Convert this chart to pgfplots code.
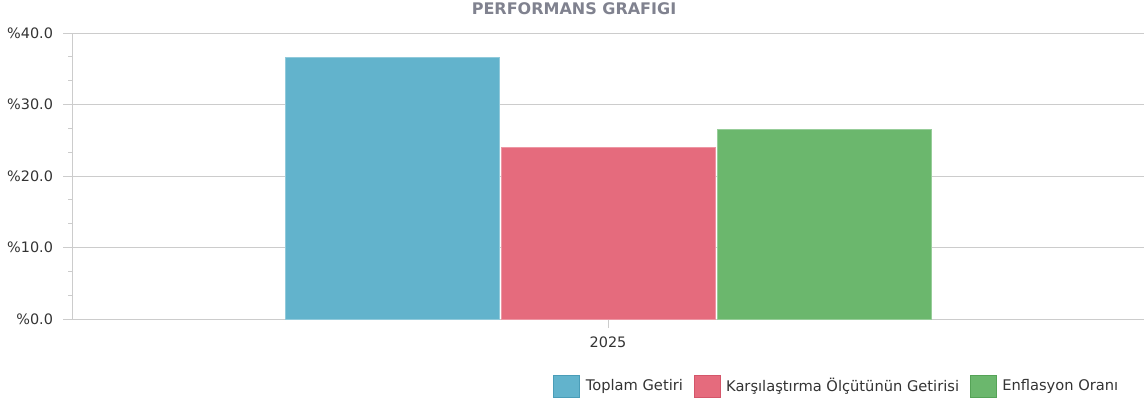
\documentclass[border=0pt]{standalone}
\usepackage{fontspec}
\setmainfont{DejaVu Sans}
\usepackage{pgfplots}
\pgfplotsset{compat=1.18}
\definecolor{cBlue}{HTML}{62B3CC}
\definecolor{cRed}{HTML}{E56B7D}
\definecolor{cGreen}{HTML}{6BB76D}
\definecolor{bBlue}{HTML}{4A9DB8}
\definecolor{bRed}{HTML}{D4566A}
\definecolor{bGreen}{HTML}{55A357}
\definecolor{titlegray}{HTML}{80828F}
\definecolor{txt}{HTML}{333333}
\definecolor{axgray}{HTML}{CCCCCC}
\begin{document}
\begin{tikzpicture}[x=0.75pt,y=0.75pt]
\path[use as bounding box] (0,0) rectangle (1144,405);
\node[font=\bfseries\fontsize{12}{14}\selectfont, text=titlegray] at (574,396) {PERFORMANS GRAFIGI};
\begin{axis}[
  at={(54pt,64.5pt)}, anchor=south west,
  scale only axis, width=804pt, height=214.5pt,
  xmin=-1, xmax=1, ymin=0, ymax=40,
  xtick={0}, xticklabels={2025},
  ytick={0,10,20,30,40}, minor y tick num=2,
  yticklabel={\%\pgfmathprintnumber[fixed,fixed zerofill,precision=1]{\tick}},
  /pgf/number format/assume math mode=true,
  tick label style={font=\fontsize{10.8}{12}\selectfont, text=txt},
  yticklabel style={xshift=-4pt},
  xticklabel style={yshift=-3pt},
  axis x line*=bottom, axis y line*=left,
  axis line style={draw=axgray, line width=0.75pt},
  tick style={draw=axgray, line width=0.75pt},
  tick align=outside, major tick length=6.75pt, minor tick length=3pt,
  ymajorgrids, grid style={draw=axgray, line width=0.75pt},
  ybar, bar width=0.4,
  legend style={at={(0.445,-0.234)}, anchor=west, draw=none, fill=none,
    font=\fontsize{11}{13}\selectfont, text=txt, legend columns=3,
    /tikz/every odd column/.append style={column sep=2.5pt},
    /tikz/every even column/.append style={column sep=6pt}},
  legend image code/.code={\draw[#1] (0pt,-8pt) rectangle (19.5pt,8.5pt);},
]
\addplot[fill=cBlue, draw=cBlue!70!white, bar shift=-0.403, forget plot] coordinates {(0,36.6)};
\addplot[fill=cRed, draw=cRed!70!white, bar shift=0, forget plot] coordinates {(0,24.0)};
\addplot[fill=cGreen, draw=cGreen!70!white, bar shift=0.404, forget plot] coordinates {(0,26.6)};
\addlegendimage{fill=cBlue, draw=bBlue}
\addlegendentry{Toplam Getiri}
\addlegendimage{fill=cRed, draw=bRed}
\addlegendentry{Karşılaştırma Ölçütünün Getirisi}
\addlegendimage{fill=cGreen, draw=bGreen}
\addlegendentry{Enflasyon Oranı}
\end{axis}
\end{tikzpicture}
\end{document}
